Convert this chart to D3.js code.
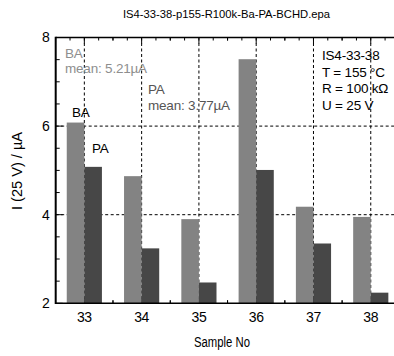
<!DOCTYPE html>
<html>
<head>
<meta charset="utf-8">
<script src="https://cdn.jsdelivr.net/npm/d3@7"></script>
<style>
  html, body { margin: 0; padding: 0; background: #fff; }
  svg { display: block; }
  text { font-family: "Liberation Sans", Arial, sans-serif; }
</style>
</head>
<body>
<svg id="chart" width="394" height="356"></svg>
<script>
// Sample numbers and measured currents I(25 V) in µA
const samples = ["33", "34", "35", "36", "37", "38"];
const series = ["BA", "PA"];
const baValues = [6.08, 4.87, 3.90, 7.51, 4.18, 3.95];
const paValues = [5.08, 3.24, 2.47, 5.01, 3.35, 2.24];
const yTicks = [2, 4, 6, 8];
const yGrid = [4, 6];
const yDomain = [2, 8];
const title = "IS4-33-38-p155-R100k-Ba-PA-BCHD.epa";
const xTitle = "Sample No";
const yTitle = "I (25 V) / \u00b5A";
const baLegend = ["BA", "mean: 5.21\u00b5A"];
const paLegend = ["PA", "mean: 3.77\u00b5A"];
const infoLines = ["IS4-33-38", "T = 155 \u00b0C", "R = 100 k\u03a9", "U = 25 V"];

const colors = { BA: "#838383", PA: "#474747" };
const textColors = { BA: "#8e8e8e", PA: "#555555" };

const svg = d3.select("#chart");
const plot = { left: 55.7, right: 399.4, top: 37.5, bottom: 303.3 };

const x = d3.scaleBand().domain(samples).range([plot.left, plot.right]).padding(0);
const y = d3.scaleLinear().domain(yDomain).range([plot.bottom, plot.top]);
const halfBar = x.bandwidth() * 0.307;
const xSub = d3.scaleBand().domain(series).range([-halfBar, halfBar]).padding(0);
const cx = d => x(d) + x.bandwidth() / 2;

// dashed grid
const grid = svg.append("g").attr("stroke", "#000").attr("stroke-width", 1)
  .attr("stroke-dasharray", "3,2.5").attr("fill", "none");
grid.selectAll("line.h").data(yGrid).join("line").attr("class", "h")
  .attr("x1", plot.left).attr("x2", plot.right)
  .attr("y1", d => y(d)).attr("y2", d => y(d));
grid.selectAll("line.v").data(samples).join("line").attr("class", "v")
  .attr("x1", d => cx(d)).attr("x2", d => cx(d))
  .attr("y1", plot.top).attr("y2", plot.bottom);

// inward ticks on top and bottom: major at each sample, minor at quarters
const xMinor = [];
samples.forEach(s => {
  for (let k = -2; k <= 2; k++) if (k !== 0) xMinor.push(cx(s) + k * x.bandwidth() / 4);
});
const topAxis = d3.axisTop(x).tickSize(-6).tickFormat("");
const bottomAxis = d3.axisBottom(x).tickSize(-6).tickFormat("");
const tickG = svg.append("g");
tickG.append("g").attr("transform", `translate(0,${plot.top})`).call(topAxis)
  .call(g => g.select(".domain").remove());
tickG.append("g").attr("transform", `translate(0,${plot.bottom})`).call(bottomAxis)
  .call(g => g.select(".domain").remove());
const minorX = xMinor.filter(v => v > plot.left + 1);
tickG.selectAll("line.minor").data(minorX)
  .join("line").attr("class", "minor")
  .attr("x1", d => d).attr("x2", d => d)
  .attr("y1", plot.top).attr("y2", plot.top + 3)
  .attr("stroke", "#000");
tickG.selectAll("line.minorb").data(minorX)
  .join("line").attr("class", "minorb")
  .attr("x1", d => d).attr("x2", d => d)
  .attr("y1", plot.bottom).attr("y2", plot.bottom - 3)
  .attr("stroke", "#000");

// bars
const rows = samples.map((s, i) => ({ sample: s, BA: baValues[i], PA: paValues[i] }));
const barG = svg.append("g");
barG.selectAll("g").data(rows).join("g")
  .attr("transform", d => `translate(${cx(d.sample)},0)`)
  .selectAll("rect").data(d => series.map(k => ({ key: k, value: d[k] })))
  .join("rect")
  .attr("x", d => xSub(d.key))
  .attr("width", xSub.bandwidth())
  .attr("y", d => y(d.value))
  .attr("height", d => y(yDomain[0]) - y(d.value))
  .attr("fill", d => colors[d.key]);

// left axis with labels, minor ticks every 0.5
const leftAxis = d3.axisLeft(y).tickValues(yTicks).tickSize(0).tickPadding(6)
  .tickFormat(d3.format("d"));
const lg = svg.append("g").attr("transform", `translate(${plot.left},0)`).call(leftAxis);
lg.select(".domain").remove();
lg.selectAll("text").attr("font-size", 14).attr("font-family", "Liberation Sans, Arial, sans-serif")
  .attr("fill", "#000");
const yMinor = d3.range(2.5, 8, 0.5).filter(v => !yTicks.includes(v));
svg.append("g").selectAll("line").data(yMinor).join("line")
  .attr("x1", plot.left).attr("x2", plot.left + 4)
  .attr("y1", d => y(d)).attr("y2", d => y(d)).attr("stroke", "#000");
svg.append("g").selectAll("line").data(yTicks).join("line")
  .attr("x1", plot.left).attr("x2", plot.left + 7)
  .attr("y1", d => y(d)).attr("y2", d => y(d)).attr("stroke", "#000");

// frame
svg.append("line").attr("x1", plot.left).attr("x2", plot.left)
  .attr("y1", plot.top - 0.8).attr("y2", plot.bottom + 0.8)
  .attr("stroke", "#000").attr("stroke-width", 2);
svg.append("line").attr("x1", plot.left).attr("x2", plot.right)
  .attr("y1", plot.top).attr("y2", plot.top).attr("stroke", "#000").attr("stroke-width", 1.6);
svg.append("line").attr("x1", plot.left).attr("x2", plot.right)
  .attr("y1", plot.bottom).attr("y2", plot.bottom).attr("stroke", "#000").attr("stroke-width", 1.6);

// x tick labels
svg.append("g").selectAll("text").data(samples).join("text")
  .attr("x", d => cx(d)).attr("y", 321.7).attr("text-anchor", "middle")
  .attr("font-size", 14).attr("letter-spacing", -0.4).text(d => d);

// titles
svg.append("text").attr("x", 226.5).attr("y", 18).attr("text-anchor", "middle")
  .attr("font-size", 10.5).attr("textLength", 207).attr("lengthAdjust", "spacingAndGlyphs")
  .text(title);
svg.append("text").attr("x", 222).attr("y", 347).attr("text-anchor", "middle")
  .attr("font-size", 14).attr("textLength", 56).attr("lengthAdjust", "spacingAndGlyphs")
  .text(xTitle);
svg.append("text").attr("transform", "translate(22,171) rotate(-90)")
  .attr("text-anchor", "middle").attr("font-size", 14)
  .attr("textLength", 78).attr("lengthAdjust", "spacingAndGlyphs").text(yTitle);

// annotation text
function lines(list, x0, ys, color, size, spacing) {
  svg.append("g").selectAll("text").data(list).join("text")
    .attr("x", x0).attr("y", (d, i) => ys[i]).attr("fill", color)
    .attr("font-size", size).attr("letter-spacing", spacing).text(d => d);
}
lines(baLegend, 65, [57.5, 73], textColors.BA, 13.5, -0.2);
lines(paLegend, 148, [94, 109.5], textColors.PA, 13.5, -0.2);
lines(["BA"], 72, [117], "#000", 13.5, -0.2);
lines(["PA"], 92, [153], "#000", 13.5, -0.2);
lines(infoLines, 322, [60, 76.5, 93, 109.5], "#000", 13.5, -0.2);
</script>
</body>
</html>
